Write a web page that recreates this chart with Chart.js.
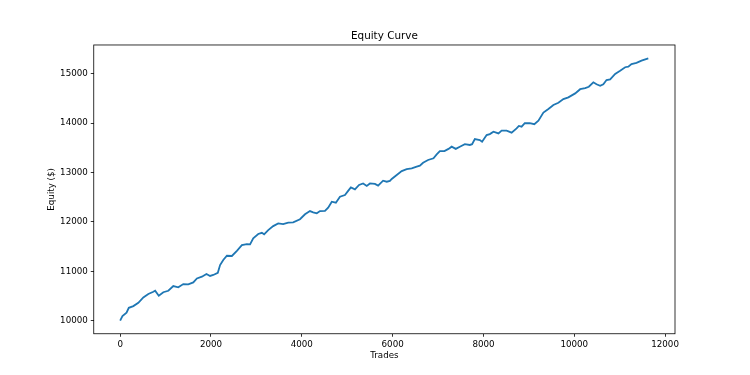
<!DOCTYPE html>
<html>
<head>
<meta charset="utf-8">
<style>
  html, body { margin: 0; padding: 0; background: #fff; }
</style>
<script src="https://cdn.jsdelivr.net/npm/chart.js"></script>
</head>
<body>
<canvas id="myChart" width="750" height="375"></canvas>
<script>
// values
const trades = [
    0, 50, 140, 190, 290, 400, 510, 620, 730, 770,
    850, 950, 1060, 1170, 1280, 1390, 1500, 1610, 1690, 1800,
    1900, 1980, 2050, 2150, 2200, 2270, 2350, 2460, 2570, 2680,
    2790, 2860, 2930, 3040, 3120, 3170, 3260, 3370, 3480, 3590,
    3700, 3810, 3960, 4070, 4180, 4250, 4330, 4400, 4510, 4580,
    4660, 4750, 4840, 4950, 5020, 5080, 5170, 5260, 5350, 5430,
    5500, 5610, 5680, 5790, 5870, 5940, 5980, 6090, 6200, 6310,
    6420, 6530, 6600, 6670, 6780, 6900, 6970, 7040, 7140, 7230,
    7300, 7390, 7480, 7590, 7700, 7750, 7810, 7920, 7970, 8070,
    8140, 8220, 8330, 8400, 8510, 8620, 8730, 8780, 8840, 8910,
    9020, 9120, 9210, 9320, 9430, 9540, 9650, 9760, 9870, 10020,
    10130, 10240, 10320, 10420, 10490, 10570, 10640, 10710, 10790, 10900,
    11010, 11120, 11190, 11260, 11370, 11480, 11630,
];

const equity = [
    10000, 10090, 10160, 10260, 10295, 10360, 10470, 10540, 10585, 10605,
    10505, 10575, 10605, 10700, 10675, 10740, 10735, 10775, 10855, 10890,
    10945, 10905, 10925, 10970, 11125, 11230, 11315, 11310, 11415, 11530,
    11550, 11545, 11670, 11755, 11780, 11750, 11835, 11915, 11970, 11955,
    11985, 11990, 12055, 12155, 12220, 12195, 12175, 12220, 12225, 12290,
    12410, 12390, 12510, 12545, 12630, 12700, 12660, 12750, 12780, 12730,
    12780, 12770, 12735, 12835, 12815, 12830, 12870, 12950, 13030, 13070,
    13085, 13120, 13140, 13200, 13255, 13290, 13370, 13435, 13435, 13480,
    13525, 13480, 13525, 13575, 13560, 13575, 13680, 13660, 13625, 13760,
    13780, 13830, 13795, 13850, 13850, 13810, 13895, 13945, 13930, 14000,
    14000, 13980, 14050, 14215, 14290, 14370, 14415, 14490, 14525, 14605,
    14690, 14710, 14740, 14830, 14790, 14760, 14790, 14875, 14890, 15000,
    15065, 15135, 15145, 15200, 15225, 15270, 15315,
];

const xTicks = [0, 2000, 4000, 6000, 8000, 10000, 12000];
const yTicks = [10000, 11000, 12000, 13000, 14000, 15000];

const font = { family: "DejaVu Sans", size: 8.7 };

// matplotlib-style box round the plot area
const frame = {
    id: "frame",
    afterDraw(chart) {
        const { ctx, chartArea: a } = chart;
        ctx.save();
        ctx.strokeStyle = "#000";
        ctx.lineWidth = 0.8;
        ctx.strokeRect(a.left, a.top, a.right - a.left, a.bottom - a.top);
        ctx.restore();
    },
};

const tickGrid = {
    display: true,
    drawOnChartArea: false,
    drawTicks: true,
    tickLength: 3,
    tickWidth: 0.8,
    tickColor: "#000",
};

new Chart(document.getElementById("myChart"), {
    type: "line",
    data: {
        datasets: [
            {
                label: "Equity",
                data: trades.map((t, i) => ({ x: t, y: equity[i] })),
                borderColor: "#1f77b4",
                borderWidth: 1.8,
                pointRadius: 0,
                tension: 0,
                fill: false,
            },
        ],
    },
    options: {
        responsive: false,
        animation: false,
        devicePixelRatio: 1,
        layout: { padding: { left: 0, right: 75, top: 0, bottom: 0 } },
        scales: {
            x: {
                type: "linear",
                min: -582,
                max: 12218,
                afterBuildTicks: (s) => { s.ticks = xTicks.map((v) => ({ value: v })); },
                afterFit: (s) => { s.height = 41.25; },
                grid: tickGrid,
                border: { display: false },
                ticks: { font, color: "#000", padding: 3, maxRotation: 0, callback: (v) => String(v) },
                title: { display: true, text: "Trades", font, color: "#000", padding: { top: 0, bottom: 13.8 } },
            },
            y: {
                type: "linear",
                min: 9734,
                max: 15586,
                afterBuildTicks: (s) => { s.ticks = yTicks.map((v) => ({ value: v })); },
                afterFit: (s) => { s.width = 93.75; },
                grid: tickGrid,
                border: { display: false },
                ticks: { font, color: "#000", padding: 3, callback: (v) => String(v) },
                title: { display: true, text: "Equity ($)", font, color: "#000", padding: { top: 46.5, bottom: 0 } },
            },
        },
        plugins: {
            legend: { display: false },
            tooltip: { enabled: false },
            title: {
                display: true,
                text: "Equity Curve",
                fullSize: false,
                color: "#000",
                font: { family: "DejaVu Sans", size: 10.4, weight: "normal" },
                padding: { top: 30.5, bottom: 2 },
            },
        },
    },
    plugins: [frame],
});
</script>
</body>
</html>
